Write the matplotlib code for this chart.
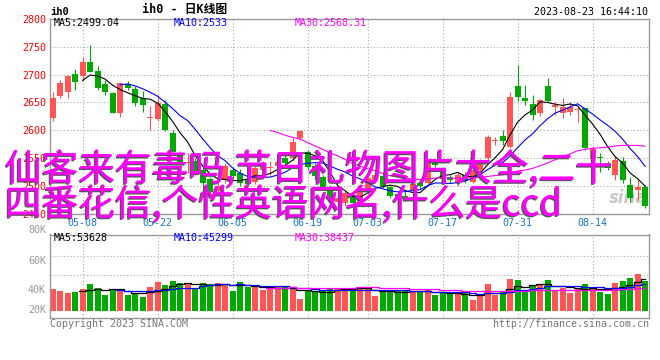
import matplotlib
matplotlib.use('Agg')
import matplotlib.pyplot as plt
import matplotlib.patheffects as pe
import matplotlib.transforms as mtransforms
import numpy as np

# ---------------- data ----------------
date_labels = ['05-08', '05-22', '06-05', '06-19', '07-03', '07-17', '07-31', '08-14']
date_index = [4, 14, 24, 34, 42, 52, 62, 72]

opens = [2621, 2661, 2668, 2701, 2698, 2722, 2706, 2683, 2667, 2631,
         2683, 2674, 2657, 2622, 2620, 2647, 2595, 2555, 2540, 2545,
         2528, 2512, 2490, 2510, 2529, 2522, 2512, 2507, 2528, 2532,
         2535, 2549, 2549, 2585, 2560, 2535, 2515, 2497, 2470, 2468,
         2483, 2470, 2490, 2510, 2518, 2497, 2485, 2482, 2493, 2505,
         2505, 2543, 2525, 2516, 2505, 2520, 2507, 2528, 2549, 2581,
         2589, 2570, 2679, 2657, 2647, 2630, 2679, 2641, 2630, 2633,
         2636, 2639, 2548, 2551, 2540, 2519, 2545, 2501, 2492, 2498]
highs = [2668, 2690, 2700, 2709, 2732, 2753, 2715, 2690, 2669, 2686,
         2688, 2679, 2670, 2643, 2663, 2655, 2601, 2562, 2558, 2550,
         2532, 2515, 2505, 2540, 2533, 2530, 2515, 2535, 2545, 2545,
         2550, 2556, 2585, 2601, 2564, 2540, 2520, 2502, 2485, 2490,
         2488, 2495, 2518, 2528, 2525, 2500, 2490, 2488, 2505, 2510,
         2545, 2548, 2530, 2520, 2524, 2524, 2532, 2548, 2592, 2588,
         2600, 2668, 2717, 2681, 2663, 2656, 2694, 2650, 2657, 2650,
         2641, 2640, 2572, 2559, 2545, 2553, 2552, 2515, 2511, 2502]
lows = [2617, 2658, 2658, 2673, 2688, 2704, 2672, 2664, 2630, 2624,
        2672, 2643, 2633, 2601, 2617, 2598, 2556, 2538, 2522, 2520,
        2480, 2485, 2485, 2505, 2512, 2500, 2500, 2503, 2522, 2520,
        2528, 2535, 2545, 2582, 2528, 2510, 2492, 2470, 2462, 2463,
        2462, 2466, 2485, 2505, 2495, 2477, 2470, 2472, 2475, 2495,
        2503, 2533, 2508, 2505, 2500, 2505, 2504, 2525, 2545, 2573,
        2573, 2568, 2652, 2645, 2619, 2626, 2650, 2628, 2621, 2628,
        2614, 2564, 2540, 2525, 2528, 2510, 2505, 2470, 2474, 2459]
closes = [2657, 2684, 2697, 2687, 2722, 2705, 2676, 2669, 2631, 2684,
          2676, 2649, 2645, 2624, 2649, 2600, 2560, 2542, 2543, 2527,
          2505, 2489, 2500, 2535, 2517, 2505, 2503, 2532, 2535, 2534,
          2542, 2540, 2579, 2599, 2533, 2518, 2497, 2475, 2478, 2486,
          2468, 2490, 2513, 2520, 2500, 2482, 2478, 2476, 2503, 2499,
          2540, 2538, 2512, 2510, 2520, 2508, 2528, 2545, 2588, 2583,
          2581, 2660, 2660, 2653, 2628, 2654, 2653, 2645, 2642, 2641,
          2637, 2568, 2566, 2550, 2531, 2546, 2511, 2477, 2498, 2464]
# volume in thousands (K)
volumes = [36.7, 33.3, 30.5, 32.2, 36.7, 45.0, 38.3, 26.7, 35.0, 36.7,
           26.7, 27.8, 23.9, 40.0, 48.3, 43.3, 50.0, 47.2, 44.4, 36.7,
           47.2, 45.0, 47.2, 45.6, 33.3, 48.3, 40.6, 39.4, 35.0, 40.6,
           39.4, 39.4, 39.4, 20.0, 35.0, 32.8, 32.8, 37.8, 37.8, 38.9,
           35.0, 39.4, 37.2, 25.6, 32.2, 32.2, 35.0, 33.3, 31.1, 32.2,
           36.1, 26.7, 29.4, 29.4, 29.4, 29.4, 18.3, 27.8, 45.0, 26.7,
           33.3, 53.3, 51.7, 35.0, 41.7, 43.3, 51.7, 35.0, 37.8, 30.5,
           36.1, 45.0, 40.6, 32.2, 28.3, 47.2, 50.0, 55.0, 62.2, 50.0]

price_ticks = [2450, 2500, 2550, 2600, 2650, 2700, 2750, 2800]
price_grid = [2500, 2550, 2600, 2650, 2700, 2750]
vol_labels = ['80K', '60K', '40K', '20K']
vol_label_pos = [135.0, 83.8, 34.5, 1.2]
vol_grid = [59.5, 92.2]

price_legend = ['MA5:2499.04', 'MA10:2533', 'MA30:2568.31']
vol_legend = ['MA5:53628', 'MA10:45299', 'MA30:38437']
legend_colors = ['black', '#0000FF', '#FF00FF']

title_text = 'ih0 - 日K线图'
symbol_text = 'ih0'
time_text = '2023-08-23 16:44:10'
left_foot = 'Copyright 2023 SINA.COM'
right_foot = 'http://finance.sina.com.cn'
overlay_lines = ['仙客来有毒吗,节日礼物图片大全,二十', '四番花信,个性英语网名,什么是ccd']

# ---------------- helpers ----------------
W, H = 660, 360
def fx(px):
    return px / W
def fy(py):
    return 1 - py / H

MONO = 'DejaVu Sans Mono'
RED = '#FF5555'
GREEN = '#00AA00'
GRID = '#AAAAAA'
FRAME = '#999999'

o = np.array(opens, float)
h = np.array(highs, float)
l = np.array(lows, float)
c = np.array(closes, float)
v = np.array(volumes, float)
n = len(c)
x = np.arange(n)
up = c >= o
colors = np.where(up, RED, GREEN)

def ma(arr, k):
    out = np.full(len(arr), np.nan)
    for i in range(k - 1, len(arr)):
        out[i] = arr[i - k + 1:i + 1].mean()
    return out

fig = plt.figure(figsize=(6.6, 3.6), dpi=100)
fig.patch.set_facecolor('white')

xl = (-0.35, 79.52)

# ---------------- price panel ----------------
axp = fig.add_axes([fx(50), fy(213.5), fx(649) - fx(50), fy(18.9) - fy(213.5)])
axp.set_xlim(*xl)
axp.set_ylim(2450, 2800)
for yv in price_grid:
    axp.axhline(yv, color=GRID, lw=0.8, ls=(0, (1, 2)), zorder=0)
for xv in date_index:
    axp.axvline(xv, color=GRID, lw=0.8, ls=(0, (1, 2)), zorder=0)

axp.text(0.965, 0.08, 'sina', transform=axp.transAxes, fontsize=12,
         fontstyle='italic', fontweight='bold', color='#C8C8C8',
         ha='center', va='center', zorder=0.5)

axp.vlines(x, l, h, colors=colors, lw=0.8, zorder=2)
body_h = np.maximum(np.abs(c - o), 1.5)
axp.bar(x, body_h, bottom=np.minimum(o, c), width=0.78, color=colors,
        linewidth=0, zorder=3)

axp.plot(x, ma(c, 5), color='black', lw=0.8, zorder=4)
axp.plot(x, ma(c, 10), color='#0000FF', lw=0.8, zorder=4)
axp.plot(x, ma(c, 30), color='#FF00FF', lw=0.8, zorder=4)

axp.set_yticks(price_ticks)
axp.set_yticklabels([str(t) for t in price_ticks], color='#FF0000',
                    fontsize=7.2, family=MONO)
axp.set_xticks(date_index)
axp.set_xticklabels(date_labels, color='#1874CD', fontsize=7.2, family=MONO)
axp.tick_params(length=0, pad=3)
for s in axp.spines.values():
    s.set_color(FRAME)
    s.set_linewidth(1.0)

for txt, px, col in zip(price_legend, [54, 174, 295], legend_colors):
    fig.text(fx(px), fy(23.5), txt, color=col, fontsize=7.2, family=MONO,
             ha='left', va='center')

# ---------------- volume panel ----------------
axv = fig.add_axes([fx(50), fy(318), fx(649) - fx(50), fy(234.5) - fy(318)])
axv.set_xlim(*xl)
axv.set_ylim(-11.67, 127.5)
for yv in vol_grid:
    axv.axhline(yv, color=GRID, lw=0.8, ls=(0, (1, 2)), zorder=0)
for xv in date_index:
    axv.axvline(xv, color=GRID, lw=0.8, ls=(0, (1, 2)), zorder=0)
axv.bar(x, v, width=0.78, color=colors, linewidth=0, zorder=2)
axv.plot(x, ma(v, 5), color='black', lw=0.9, drawstyle='steps-mid', zorder=3)
axv.plot(x, ma(v, 10), color='#0000FF', lw=0.9, drawstyle='steps-mid', zorder=3)
axv.plot(x, ma(v, 30), color='#FF00FF', lw=0.9, drawstyle='steps-mid', zorder=3)
axv.set_xticks([])
axv.set_yticks([])
for s in axv.spines.values():
    s.set_color(FRAME)
    s.set_linewidth(1.0)
trans = mtransforms.blended_transform_factory(fig.transFigure, axv.transData)
for lab, pos in zip(vol_labels, vol_label_pos):
    axv.text(fx(46), pos, lab, transform=trans, color='#999999', fontsize=7.2,
             family=MONO, ha='right', va='center', clip_on=False)

for txt, px, col in zip(vol_legend, [54, 174, 295], legend_colors):
    fig.text(fx(px), fy(238), txt, color=col, fontsize=7.2, family=MONO,
             ha='left', va='center')

# ---------------- header / footer ----------------
fig.text(fx(50), fy(12), symbol_text, fontsize=7.5, family=MONO,
         fontweight='bold', ha='left', va='center', color='black')
fig.text(fx(185), fy(10), title_text, fontsize=8.5,
         family=[MONO, 'Noto Sans CJK SC'], fontweight='bold',
         ha='center', va='center', color='black')
fig.text(fx(648), fy(12), time_text, fontsize=7.2, family=MONO,
         ha='right', va='center', color='black')
fig.text(fx(50), fy(324), left_foot, fontsize=7.2, family=MONO,
         ha='left', va='center', color='#777777')
fig.text(fx(649), fy(324), right_foot, fontsize=7.2, family=MONO,
         ha='right', va='center', color='#777777')

# ---------------- overlay text ----------------
shadow = [pe.withSimplePatchShadow(offset=(-1.0, -1.0), shadow_rgbFace='#555555',
                                   alpha=1.0), pe.Normal()]
for line, base in zip(overlay_lines, [180.5, 215.5]):
    fig.text(fx(5), fy(base), line, fontsize=26.4, color='#FF00FF',
             family=['Noto Sans CJK SC', 'DejaVu Sans'], ha='left',
             va='baseline', path_effects=shadow, zorder=20)

fig.savefig('out.png', dpi=100)
